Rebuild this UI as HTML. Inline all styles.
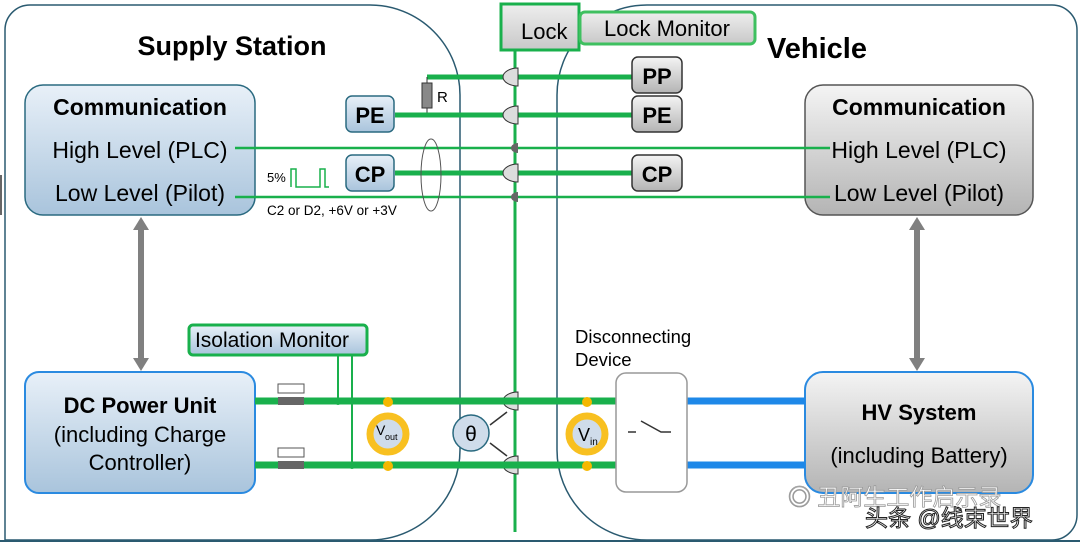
<!DOCTYPE html>
<html><head><meta charset="utf-8"><style>
html,body{margin:0;padding:0;background:#fff;}
svg{display:block;font-family:"Liberation Sans","Noto Sans CJK SC",sans-serif;}
</style></head><body>
<svg width="1080" height="546" viewBox="0 0 1080 546" xmlns="http://www.w3.org/2000/svg">
<defs>
<linearGradient id="gb" x1="0" y1="0" x2="0" y2="1"><stop offset="0" stop-color="#e8f0f8"/><stop offset="1" stop-color="#a9c4dc"/></linearGradient>
<linearGradient id="gg" x1="0" y1="0" x2="0" y2="1"><stop offset="0" stop-color="#f4f4f4"/><stop offset="1" stop-color="#b4b4b4"/></linearGradient>
<linearGradient id="gl" x1="0" y1="0" x2="0" y2="1"><stop offset="0" stop-color="#eeeeee"/><stop offset="1" stop-color="#c8c8c8"/></linearGradient>
</defs>
<path d="M30,5 H370 A90,90 0 0 1 460,95 V450 A90,90 0 0 1 370,540 H5 V30 A25,25 0 0 1 30,5 Z" fill="none" stroke="#2a5a70" stroke-width="1.5"/>
<path d="M647,5 H1052 A25,25 0 0 1 1077,30 V515 A25,25 0 0 1 1052,540 H647 A90,90 0 0 1 557,450 V95 A90,90 0 0 1 647,5 Z" fill="none" stroke="#2a5a70" stroke-width="1.5"/>
<line x1="0" y1="541" x2="1080" y2="541" stroke="#2a5a70" stroke-width="2"/>
<rect x="0" y="175" width="2" height="40" fill="#666"/>
<text x="232" y="55" font-size="27" font-weight="bold" text-anchor="middle">Supply Station</text>
<text x="817" y="58" font-size="29" font-weight="bold" text-anchor="middle">Vehicle</text>
<line x1="515" y1="50" x2="515" y2="532" stroke="#19b04c" stroke-width="3"/>
<rect x="501" y="4" width="78" height="46" fill="url(#gl)" stroke="#19b04c" stroke-width="3"/>
<text x="521" y="39" font-size="22">Lock</text>
<rect x="580" y="12" width="175" height="32" rx="5" fill="url(#gl)" stroke="#3fc060" stroke-width="3"/>
<text x="667" y="36" font-size="22" text-anchor="middle">Lock Monitor</text>
<rect x="25" y="85" width="230" height="130" rx="18" fill="url(#gb)" stroke="#2a6a80" stroke-width="1.5"/>
<text x="140" y="115" font-size="23" font-weight="bold" text-anchor="middle">Communication</text>
<text x="140" y="158" font-size="23" text-anchor="middle">High Level (PLC)</text>
<text x="140" y="201" font-size="23" text-anchor="middle">Low Level (Pilot)</text>
<rect x="805" y="85" width="228" height="130" rx="18" fill="url(#gg)" stroke="#555" stroke-width="1.5"/>
<text x="919" y="115" font-size="23" font-weight="bold" text-anchor="middle">Communication</text>
<text x="919" y="158" font-size="23" text-anchor="middle">High Level (PLC)</text>
<text x="919" y="201" font-size="23" text-anchor="middle">Low Level (Pilot)</text>
<line x1="427" y1="77" x2="632" y2="77" stroke="#19b04c" stroke-width="5"/>
<line x1="427" y1="77" x2="427" y2="115" stroke="#333" stroke-width="1"/>
<rect x="422" y="83" width="10" height="25" fill="#888" stroke="#333"/>
<text x="437" y="102" font-size="15">R</text>
<line x1="395" y1="115" x2="632" y2="115" stroke="#19b04c" stroke-width="5"/>
<line x1="395" y1="173" x2="632" y2="173" stroke="#19b04c" stroke-width="5"/>
<line x1="235" y1="148" x2="830" y2="148" stroke="#19b04c" stroke-width="2.5"/>
<line x1="235" y1="197" x2="830" y2="197" stroke="#19b04c" stroke-width="2.5"/>
<ellipse cx="431" cy="175" rx="10" ry="36" fill="none" stroke="#555"/>
<g fill="#ddd" stroke="#333" stroke-width="1">
<path d="M518,68 A15,9 0 0 0 518,86 V68Z"/><path d="M518,106 A15,9 0 0 0 518,124 V106Z"/>
<path d="M518,164 A15,9 0 0 0 518,182 V164Z"/>
<path d="M518,392 A15,9 0 0 0 518,410 V392Z"/><path d="M518,456 A15,9 0 0 0 518,474 V456Z"/>
</g>
<path d="M518,143 A7,5 0 0 0 518,153Z" fill="#666"/><path d="M518,192 A7,5 0 0 0 518,202Z" fill="#666"/>
<g stroke="#2a6a80" stroke-width="1.5" fill="url(#gb)">
<rect x="346" y="96" width="48" height="36" rx="6"/><rect x="346" y="155" width="48" height="36" rx="6"/></g>
<text x="370" y="123" font-size="22" font-weight="bold" text-anchor="middle">PE</text>
<text x="370" y="182" font-size="22" font-weight="bold" text-anchor="middle">CP</text>
<g stroke="#333" stroke-width="1.5" fill="url(#gg)">
<rect x="632" y="57" width="50" height="36" rx="6"/><rect x="632" y="96" width="50" height="36" rx="6"/><rect x="632" y="155" width="50" height="36" rx="6"/></g>
<text x="657" y="84" font-size="22" font-weight="bold" text-anchor="middle">PP</text>
<text x="657" y="123" font-size="22" font-weight="bold" text-anchor="middle">PE</text>
<text x="657" y="182" font-size="22" font-weight="bold" text-anchor="middle">CP</text>
<text x="267" y="182" font-size="13">5%</text>
<path d="M291,187 V169 H296 V187 H320 V169 H325 V187 H329" fill="none" stroke="#19b04c" stroke-width="1.5"/>
<text x="267" y="215" font-size="13.5">C2 or D2, +6V or +3V</text>
<g fill="#808080"><rect x="138" y="228" width="6" height="132"/><path d="M133,230 L141,217 L149,230Z"/><path d="M133,358 L141,371 L149,358Z"/>
<rect x="914" y="228" width="6" height="132"/><path d="M909,230 L917,217 L925,230Z"/><path d="M909,358 L917,371 L925,358Z"/></g>
<rect x="25" y="372" width="230" height="121" rx="14" fill="url(#gb)" stroke="#2a8ae0" stroke-width="2"/>
<text x="140" y="413" font-size="22" font-weight="bold" text-anchor="middle">DC Power Unit</text>
<text x="140" y="442" font-size="22" text-anchor="middle">(including Charge</text>
<text x="140" y="470" font-size="22" text-anchor="middle">Controller)</text>
<rect x="805" y="372" width="228" height="121" rx="18" fill="url(#gg)" stroke="#2a8ae0" stroke-width="2"/>
<text x="919" y="420" font-size="22" font-weight="bold" text-anchor="middle">HV System</text>
<text x="919" y="463" font-size="22" text-anchor="middle">(including Battery)</text>
<line x1="255" y1="401" x2="616" y2="401" stroke="#19b04c" stroke-width="7"/>
<line x1="255" y1="465" x2="616" y2="465" stroke="#19b04c" stroke-width="7"/>
<line x1="687" y1="401" x2="805" y2="401" stroke="#1e88e8" stroke-width="7"/>
<line x1="687" y1="465" x2="805" y2="465" stroke="#1e88e8" stroke-width="7"/>
<g fill="#666"><rect x="278" y="397" width="26" height="8"/><rect x="278" y="461" width="26" height="8"/></g>
<g fill="#fff" stroke="#555"><rect x="278" y="384" width="26" height="9"/><rect x="278" y="448" width="26" height="9"/></g>
<rect x="189" y="325" width="178" height="30" rx="4" fill="url(#gb)" stroke="#19b04c" stroke-width="3"/>
<text x="272" y="347" font-size="21" text-anchor="middle">Isolation Monitor</text>
<line x1="338" y1="355" x2="338" y2="401" stroke="#19b04c" stroke-width="2"/>
<line x1="352" y1="355" x2="352" y2="465" stroke="#19b04c" stroke-width="2"/>
<circle cx="338" cy="402" r="3" fill="#19b04c"/><circle cx="352" cy="466" r="3" fill="#19b04c"/>
<g fill="#f5b800"><circle cx="388" cy="402" r="5"/><circle cx="388" cy="466" r="5"/><circle cx="587" cy="402" r="5"/><circle cx="587" cy="466" r="5"/></g>
<g stroke="#f8c020" stroke-width="7" fill="#cfdcea"><circle cx="388" cy="434" r="18"/><circle cx="587" cy="434" r="18"/></g>
<text x="376" y="435" font-size="14">V</text><text x="385" y="440" font-size="9">out</text>
<text x="578" y="441" font-size="18">V</text><text x="590" y="445" font-size="10">in</text>
<line x1="490" y1="425" x2="507" y2="412" stroke="#333" stroke-width="1.5"/>
<line x1="490" y1="443" x2="507" y2="456" stroke="#333" stroke-width="1.5"/>
<circle cx="471" cy="433" r="18" fill="#cfdcea" stroke="#2a6a80" stroke-width="1.5"/>
<text x="471" y="441" font-size="21" text-anchor="middle">θ</text>
<text x="575" y="343" font-size="18.5">Disconnecting</text>
<text x="575" y="366" font-size="18.5">Device</text>
<rect x="616" y="373" width="71" height="119" rx="10" fill="#fff" stroke="#999" stroke-width="1.5"/>
<path d="M628,432 H636 M641,421 L661,432 H671" fill="none" stroke="#333" stroke-width="1.5"/>
<text x="788" y="505" font-size="23" fill="#fff" stroke="#999" stroke-width="0.8">◎ 丑阿生工作启示录</text>
<text x="865" y="526" font-size="23" fill="#fff" stroke="#222" stroke-width="1">头条 @线束世界</text>
</svg>
</body></html>
